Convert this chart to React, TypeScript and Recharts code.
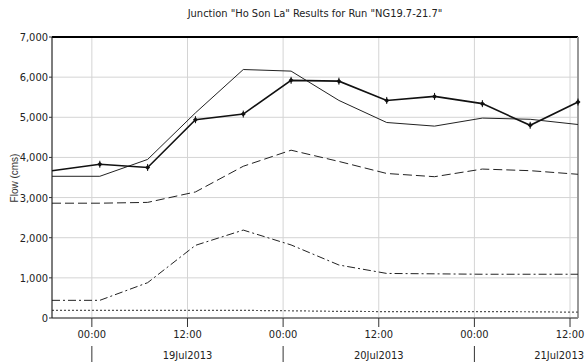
import React from 'react';
import { LineChart, Line, XAxis, YAxis, CartesianGrid, ReferenceLine } from 'recharts';

// hours from 19Jul2013 00:00, one sample every 6 hours
const hours = [-5, 1, 7, 13, 19, 25, 31, 37, 43, 49, 55, 61];

const flowMarked = [3670, 3830, 3750, 4940, 5080, 5920, 5900, 5420, 5520, 5340, 4800, 5380];
const flowSolid = [3530, 3530, 3950, 5110, 6190, 6150, 5420, 4870, 4780, 4980, 4950, 4820];
const flowDashed = [2860, 2860, 2880, 3140, 3780, 4180, 3900, 3600, 3520, 3710, 3670, 3580];
const flowDashDot = [440, 440, 880, 1810, 2190, 1820, 1320, 1110, 1100, 1090, 1090, 1090];
const flowDotted = [190, 190, 190, 190, 190, 180, 165, 160, 160, 160, 155, 145];

const timeTicks = [0, 12, 24, 36, 48, 60];
const timeLabels = ['00:00', '12:00', '00:00', '12:00', '00:00', '12:00'];
const dateLabels: Record<number, string> = { 12: '19Jul2013', 36: '20Jul2013', 60: '21Jul2013' };
const flowTicks = [0, 1000, 2000, 3000, 4000, 5000, 6000, 7000];

const data = hours.map((h, i) => ({
    h,
    marked: flowMarked[i],
    solid: flowSolid[i],
    dashed: flowDashed[i],
    dashDot: flowDashDot[i],
    dotted: flowDotted[i],
}));

const narrowStyle: React.CSSProperties = {
    fontFamily: '"DejaVu Sans Condensed", "Liberation Sans Narrow", "DejaVu Sans", sans-serif',
    fontStretch: 'condensed',
};

const TimeTick = (props: any) => {
    const { x, y, payload } = props;
    const idx = timeTicks.indexOf(payload.value);
    const date = dateLabels[payload.value];
    const isLast = payload.value === timeTicks[timeTicks.length - 1];
    return (
        <g>
            <text x={x} y={y} dy={9} textAnchor="middle" fontSize={11} style={narrowStyle} fill="#222">
                {timeLabels[idx]}
            </text>
            {date ? (
                <text x={isLast ? 584 : x} y={y} dy={30} textAnchor={isLast ? 'end' : 'middle'} fontSize={11} style={narrowStyle} fill="#222">
                    {date}
                </text>
            ) : (
                <line x1={x} x2={x} y1={y + 17} y2={y + 33} stroke="#333" strokeWidth={1} />
            )}
        </g>
    );
};

const FlowTick = (props: any) => {
    const { x, y, payload } = props;
    return (
        <text x={x} y={y} dy={4} textAnchor="end" fontSize={11} style={narrowStyle} fill="#222">
            {Number(payload.value).toLocaleString('en-US')}
        </text>
    );
};

// small cross marker used on the computed flow line
const Cross = (props: any) => {
    const { cx, cy, index } = props;
    if (index === 0 || cx == null) return null;
    return (
        <g>
            <path d={`M${cx - 2.5},${cy} L${cx},${cy - 2.5} L${cx + 2.5},${cy} L${cx},${cy + 2.5} Z`} fill="#111" />
            <line x1={cx} x2={cx} y1={cy - 3.5} y2={cy + 3.5} stroke="#111" strokeWidth={1} />
        </g>
    );
};

const App = () => {
    return (
        <div style={{ position: 'absolute', left: 0, top: 0, width: 586, height: 364, background: '#fff' }}>
            <div
                style={{
                    ...narrowStyle,
                    position: 'absolute',
                    top: 7,
                    left: 52,
                    width: 526,
                    textAlign: 'center',
                    fontSize: 11,
                    color: '#222',
                }}
            >
                Junction "Ho Son La" Results for Run "NG19.7-21.7"
            </div>
            <div
                style={{
                    position: 'absolute',
                    left: 14,
                    top: 178,
                    width: 0,
                    height: 0,
                }}
            >
                <div
                    style={{
                        position: 'absolute',
                        left: 0,
                        top: 0,
                        transform: 'translate(-50%, -50%) rotate(-90deg)',
                        fontFamily: '"Liberation Sans", Arial, sans-serif',
                        fontSize: 10,
                        color: '#333',
                        whiteSpace: 'nowrap',
                    }}
                >
                    Flow (cms)
                </div>
            </div>
            <LineChart width={586} height={364} data={data} margin={{ top: 37, right: 8, left: 6, bottom: 6 }}>
                <CartesianGrid stroke="#d4d4d4" strokeWidth={1} />
                <XAxis
                    dataKey="h"
                    type="number"
                    domain={[-5, 61]}
                    ticks={timeTicks}
                    height={40}
                    interval={0}
                    axisLine={{ stroke: '#888', strokeWidth: 2 }}
                    tickLine={{ stroke: '#333' }}
                    tickSize={9}
                    tick={<TimeTick />}
                />
                <YAxis
                    type="number"
                    domain={[0, 7000]}
                    ticks={flowTicks}
                    width={46}
                    interval={0}
                    axisLine={{ stroke: '#111' }}
                    tickLine={{ stroke: '#333' }}
                    tickSize={3}
                    tickMargin={1}
                    tick={<FlowTick />}
                />
                <ReferenceLine y={7000} stroke="#000" strokeWidth={2} />
                <ReferenceLine x={61} stroke="#999" strokeWidth={2} />
                <Line dataKey="dotted" stroke="#555" strokeWidth={1.2} strokeDasharray="2 2" dot={false} isAnimationActive={false} />
                <Line dataKey="dashDot" stroke="#222" strokeWidth={1} strokeDasharray="8 3 2 3" dot={false} isAnimationActive={false} />
                <Line dataKey="dashed" stroke="#222" strokeWidth={1} strokeDasharray="9 4" dot={false} isAnimationActive={false} />
                <Line dataKey="solid" stroke="#222" strokeWidth={1} dot={false} isAnimationActive={false} />
                <Line dataKey="marked" stroke="#111" strokeWidth={1.6} dot={<Cross />} isAnimationActive={false} />
            </LineChart>
        </div>
    );
};

export default App;
